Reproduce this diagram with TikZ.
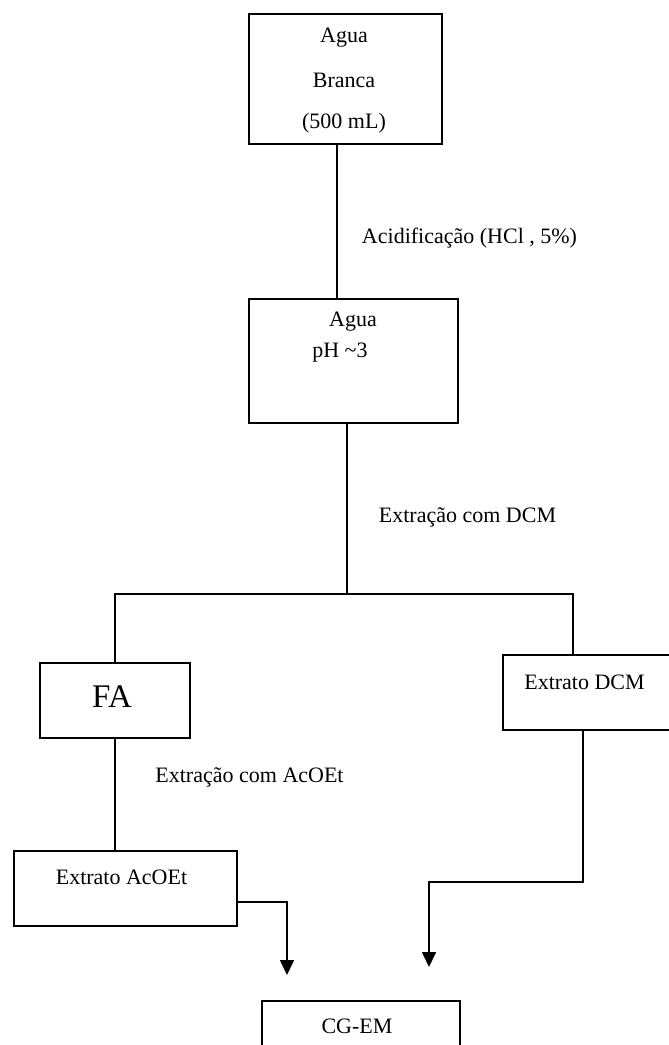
\documentclass[tikz,border=0pt]{standalone}
\usepackage{fontspec}
\setmainfont{Liberation Serif}
\usetikzlibrary{positioning,calc,arrows.meta}

\begin{document}
\begin{tikzpicture}[x=1pt,y=-1pt,line width=1.6pt,
    box/.style={rectangle,draw,inner sep=0pt},
    txt/.style={inner sep=0pt,font=\fontsize{22pt}{26pt}\selectfont},
    arr/.style={-{Triangle[width=14pt,length=15pt]}}]
        \useasboundingbox (0,0) rectangle (669,1045);

        % boxes
        \node[box,minimum width=193pt,minimum height=130pt] (branca) at (345.5,79) {};
        \node[box,minimum width=209pt,minimum height=124pt] (acida) at (353.5,361) {};
        \node[box,minimum width=150pt,minimum height=75pt] (fa) at (115,700.5) {};
        \node[box,minimum width=197pt,minimum height=75pt] (dcm) at (601.5,692.5) {};
        \node[box,minimum width=223pt,minimum height=75pt] (acoet) at (125.5,888.5) {};
        \node[box,minimum width=198pt,minimum height=79pt] (cgem) at (361,1040.5) {};

        % texts
        \node[txt] (t1) at (344,38) {Agua};
        \node[txt] (t2) at (344,80) {Branca};
        \node[txt] (t3) at (344,123) {(500 mL)};
        \node[txt] (t4) at (353,322) {Agua};
        \node[txt] (t5) at (340,353) {pH \textasciitilde3};
        \node[txt,font=\fontsize{33pt}{38pt}\selectfont] (t6) at (112,697) {FA};
        \node[txt] (t7) at (584.5,682) {Extrato DCM};
        \node[txt] (t8) at (121.5,877) {Extrato AcOEt};
        \node[txt] (t9) at (357,1026) {CG-EM};
        \node[txt] (acid) at (469.5,238) {Acidificação (HCl , 5\%)};
        \node[txt] (exdcm) at (467.5,517) {Extração com DCM};
        \node[txt] (exac) at (249.5,777) {Extração com AcOEt};

        % junctions
        \coordinate (split) at (347,594);
        \coordinate (splitR) at (573,594);
        \coordinate (bendR) at (583,882);
        \coordinate (tipR) at (429,967);
        \coordinate (tipL) at (287,975);

        \draw ([xshift=-8.5pt]branca.south) -- ([xshift=-8.5pt]branca.south |- acida.north);
        \draw (acida.south -| split) -- (split);
        \draw (fa.north) |- (splitR) -- (splitR |- dcm.north);
        \draw (fa.south) -- (fa.south |- acoet.north);
        \draw[arr] (bendR |- dcm.south) -- (bendR) -| (tipR);
        \draw[arr] ([yshift=-13.5pt]acoet.east) -| (tipL);
    \end{tikzpicture}
\end{document}
